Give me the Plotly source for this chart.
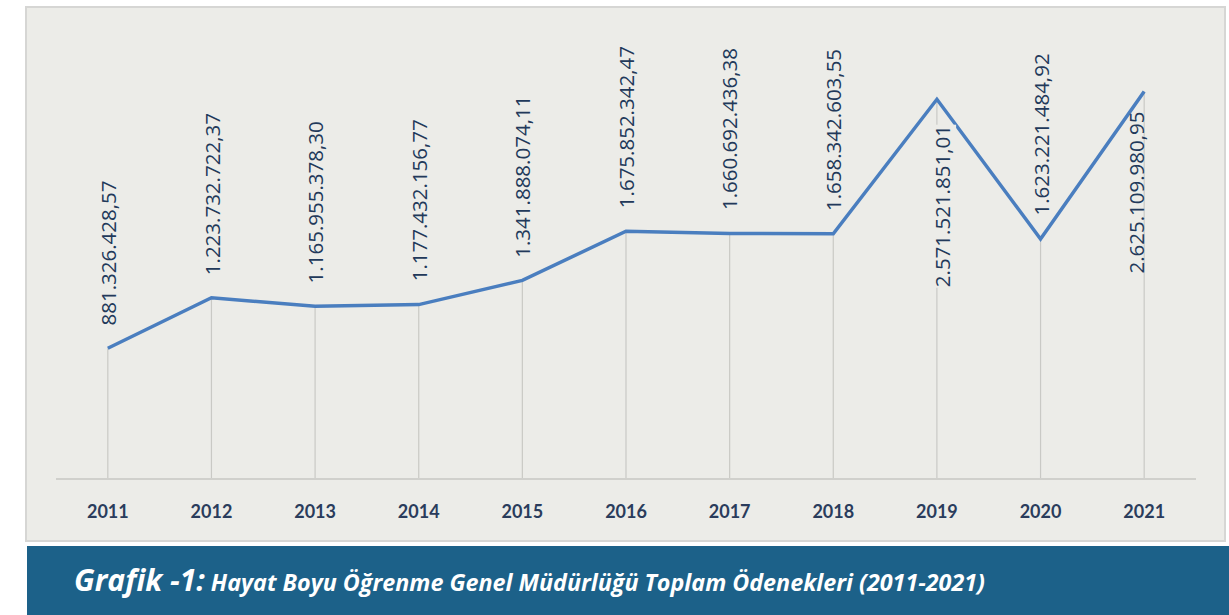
import plotly.graph_objects as go

years = ["2011", "2012", "2013", "2014", "2015", "2016", "2017", "2018", "2019", "2020", "2021"]
values = [881326428.57, 1223732722.37, 1165955378.30, 1177432156.77, 1341888074.11,
          1675852342.47, 1660692436.38, 1658342603.55, 2571521851.01, 1623221484.92,
          2625109980.95]
labels = ["881.326.428,57", "1.223.732.722,37", "1.165.955.378,30", "1.177.432.156,77",
          "1.341.888.074,11", "1.675.852.342,47", "1.660.692.436,38", "1.658.342.603,55",
          "2.571.521.851,01", "1.623.221.484,92", "2.625.109.980,95"]
below = ["2019", "2021"]

PANEL = "#ecece8"
NAVY = "#22395a"

fig = go.Figure()
# drop lines
fig.add_trace(go.Scatter(
    x=years, y=values, mode="markers", marker=dict(opacity=0, size=1),
    error_y=dict(type="data", symmetric=False, array=[0] * len(values), arrayminus=values,
                 color="#c9c9c5", thickness=1.2, width=0),
    hoverinfo="skip", showlegend=False))
fig.add_trace(go.Scatter(
    x=years, y=values, mode="lines", line=dict(color="#4a7ebf", width=3.5),
    showlegend=False))

for i, (yr, v, lab) in enumerate(zip(years, values, labels)):
    if yr in below:
        fig.add_annotation(x=i, y=v, text=lab, textangle=-90, showarrow=False,
                           xanchor="center", yanchor="top",
                           yshift=-19 if yr == "2021" else -25,
                           xshift=-8 if yr == "2021" else 5,
                           font=dict(family="Open Sans", size=20.5, color=NAVY),
                           bgcolor=PANEL if yr == "2019" else "rgba(0,0,0,0)", borderpad=0)
    else:
        fig.add_annotation(x=i, y=v, text=lab, textangle=-90, showarrow=False,
                           xanchor="center", yanchor="bottom", yshift=22,
                           font=dict(family="Open Sans", size=20.5, color=NAVY),
                           borderpad=0)

L, R, T, B = 56, 1196, 20, 478
W, H = 1229, 615
pw, ph = R - L, B - T


def px(x):
    return (x - L) / pw


def py(y):
    return (B - y) / ph


shapes = [
    dict(type="rect", xref="paper", yref="paper", x0=px(26), x1=px(1225), y0=py(541), y1=py(7),
         fillcolor=PANEL, line=dict(color="#d6d6d4", width=2), layer="below"),
    dict(type="rect", xref="paper", yref="paper", x0=px(27), x1=px(1240), y0=py(630), y1=py(546),
         fillcolor="#1c6189", line=dict(width=0), layer="below"),
]
fig.update_layout(shapes=shapes)

fig.add_annotation(
    xref="paper", yref="paper", x=px(72), y=py(579), xanchor="left", yanchor="middle",
    showarrow=False,
    text="<b><i><span style='font-size:30px'>Grafik -1:</span> Hayat Boyu Öğrenme Genel Müdürlüğü Toplam Ödenekleri (2011-2021)</i></b>",
    font=dict(family="Open Sans", size=23.3, color="white"))

fig.update_layout(
    width=W, height=H,
    margin=dict(l=L, r=W - R, t=T, b=H - B),
    paper_bgcolor="white", plot_bgcolor="rgba(0,0,0,0)",
    xaxis=dict(type="category", range=[-0.5, 10.5], showgrid=False, zeroline=False,
               showline=True, linecolor="#d0d0cc", linewidth=1.5, ticks="",
               tickfont=dict(family="Lato", size=18, color="#2a3c5c", weight="bold"),
               ticklabelstandoff=17),
    yaxis=dict(range=[0, 3.11e9], visible=False, showgrid=False, zeroline=False),
)

fig.write_html("out.html", post_script="document.body.style.margin='0';",
               config={"displayModeBar": False})
